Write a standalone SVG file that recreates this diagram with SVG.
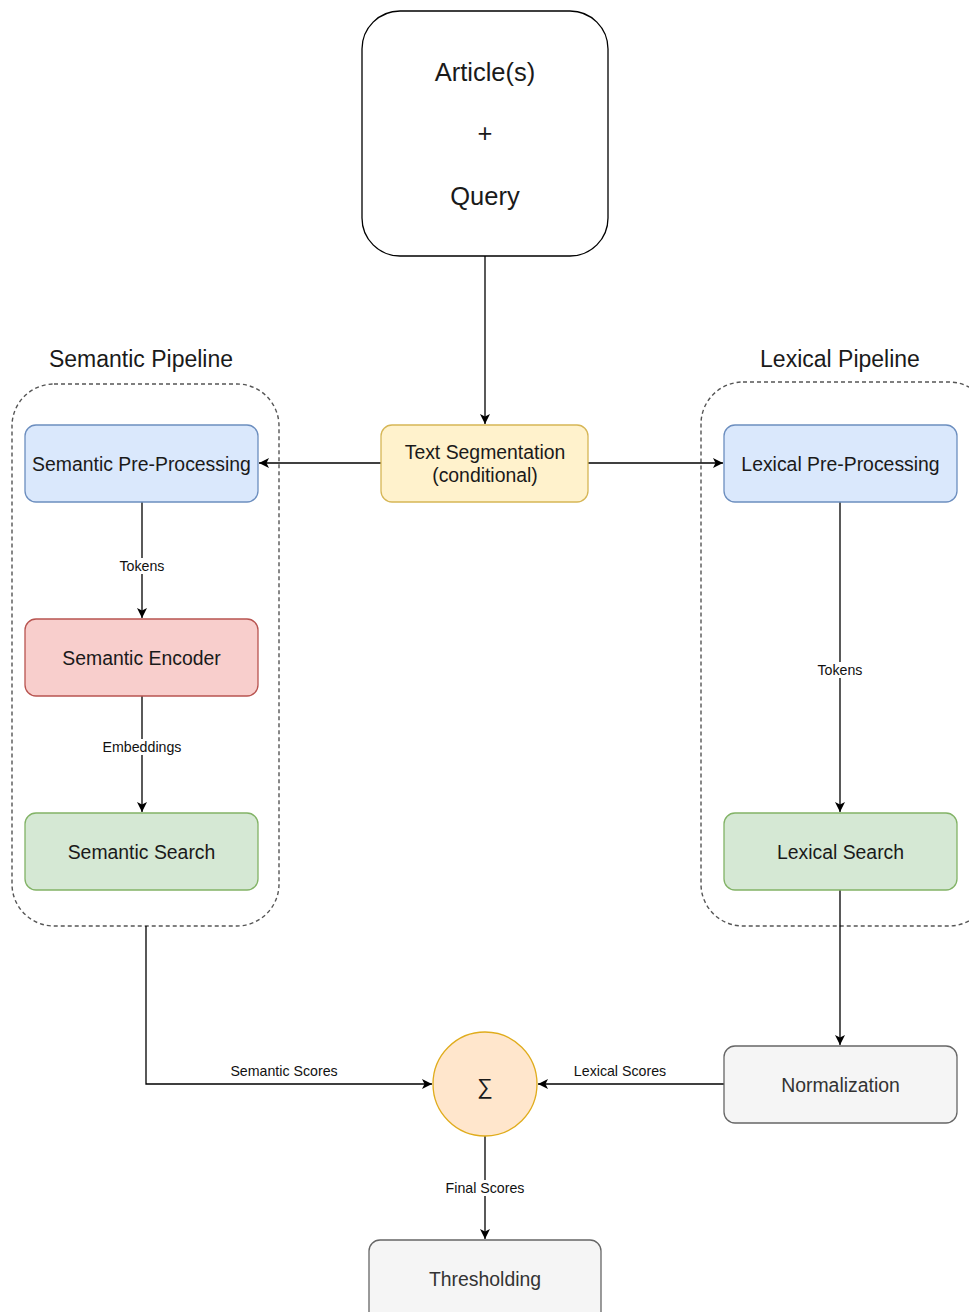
<svg xmlns="http://www.w3.org/2000/svg" width="969" height="1312" viewBox="0 0 969 1312">
  <defs>
    <marker id="arrow" viewBox="0 0 10 10" refX="10" refY="5" markerWidth="10" markerHeight="10" markerUnits="userSpaceOnUse" orient="auto">
      <path d="M0,0 L10,5 L0,10 L2.5,5 Z" fill="#000"/>
    </marker>
    <style>
      text { font-family: "Liberation Sans", Arial, sans-serif; fill: #1a1a1a; text-anchor: middle; dominant-baseline: central; }
      .node { font-size: 19.4px; }
      .big { font-size: 25.5px; }
      .title { font-size: 23px; }
      .lbl { font-size: 14.2px; fill: #111; }
      .gray text { fill: #333; }
      .edge { fill: none; stroke: #000; stroke-width: 1.3; }
      .arr { marker-end: url(#arrow); }
      .group { fill: none; stroke: #555; stroke-width: 1.4; stroke-dasharray: 4 3; }
      .lblbg { fill: #fff; }
    </style>
  </defs>

  <rect width="969" height="1312" fill="#fff"/>

  <!-- pipeline containers -->
  <g id="semantic-pipeline">
    <rect class="group" x="12" y="384" width="267" height="542" rx="42"/>
    <text class="title" x="141" y="359">Semantic Pipeline</text>
  </g>
  <g id="lexical-pipeline">
    <rect class="group" x="701" y="382" width="290" height="544" rx="42"/>
    <text class="title" x="840" y="359">Lexical Pipeline</text>
  </g>

  <!-- connectors -->
  <g id="connectors">
    <path class="edge arr" d="M485,256 V424"/>
    <path class="edge arr" d="M381,463 H259"/>
    <path class="edge arr" d="M588,463 H723"/>
    <path class="edge arr" d="M142,502 V618"/>
    <path class="edge arr" d="M142,696 V812"/>
    <path class="edge arr" d="M840,502 V812"/>
    <path class="edge arr" d="M840,890 V1045"/>
    <path class="edge arr" d="M146,926 V1084 H432"/>
    <path class="edge arr" d="M724,1084 H538"/>
    <path class="edge arr" d="M485,1136 V1239"/>

    <rect class="lblbg" x="116" y="558" width="52" height="16"/>
    <text class="lbl" x="142" y="566">Tokens</text>
    <rect class="lblbg" x="98" y="739" width="88" height="16"/>
    <text class="lbl" x="142" y="747">Embeddings</text>
    <rect class="lblbg" x="814" y="662" width="52" height="16"/>
    <text class="lbl" x="840" y="670">Tokens</text>
    <text class="lbl" x="284" y="1071">Semantic Scores</text>
    <text class="lbl" x="620" y="1071">Lexical Scores</text>
    <rect class="lblbg" x="441" y="1180" width="88" height="16"/>
    <text class="lbl" x="485" y="1188">Final Scores</text>
  </g>

  <!-- nodes -->
  <g id="input">
    <rect x="362" y="11" width="246" height="245" rx="38" fill="#fff" stroke="#000" stroke-width="1.3"/>
    <text class="big" x="485" y="72">Article(s)</text>
    <text class="big" x="485" y="133">+</text>
    <text class="big" x="485" y="196">Query</text>
  </g>

  <g id="text-segmentation">
    <rect x="381" y="425" width="207" height="77" rx="11" fill="#fff2cc" stroke="#d6b656" stroke-width="1.3"/>
    <text class="node" x="485" y="452">Text Segmentation</text>
    <text class="node" x="485" y="475">(conditional)</text>
  </g>

  <g id="semantic-preprocessing">
    <rect x="25" y="425" width="233" height="77" rx="11" fill="#dae8fc" stroke="#6c8ebf" stroke-width="1.3"/>
    <text class="node" x="141.5" y="464">Semantic Pre-Processing</text>
  </g>

  <g id="semantic-encoder">
    <rect x="25" y="619" width="233" height="77" rx="11" fill="#f8cecc" stroke="#b85450" stroke-width="1.3"/>
    <text class="node" x="141.5" y="658">Semantic Encoder</text>
  </g>

  <g id="semantic-search">
    <rect x="25" y="813" width="233" height="77" rx="11" fill="#d5e8d4" stroke="#82b366" stroke-width="1.3"/>
    <text class="node" x="141.5" y="852">Semantic Search</text>
  </g>

  <g id="lexical-preprocessing">
    <rect x="724" y="425" width="233" height="77" rx="11" fill="#dae8fc" stroke="#6c8ebf" stroke-width="1.3"/>
    <text class="node" x="840.5" y="464">Lexical Pre-Processing</text>
  </g>

  <g id="lexical-search">
    <rect x="724" y="813" width="233" height="77" rx="11" fill="#d5e8d4" stroke="#82b366" stroke-width="1.3"/>
    <text class="node" x="840.5" y="852">Lexical Search</text>
  </g>

  <g id="normalization" class="gray">
    <rect x="724" y="1046" width="233" height="77" rx="11" fill="#f5f5f5" stroke="#666" stroke-width="1.3"/>
    <text class="node" x="840.5" y="1085">Normalization</text>
  </g>

  <g id="sum">
    <circle cx="485" cy="1084" r="52" fill="#ffe6cc" stroke="#e0ac1c" stroke-width="1.3"/>
    <text x="485" y="1086" style="font-size:22px">∑</text>
  </g>

  <g id="thresholding" class="gray">
    <rect x="369" y="1240" width="232" height="85" rx="11" fill="#f5f5f5" stroke="#666" stroke-width="1.3"/>
    <text class="node" x="485" y="1279">Thresholding</text>
  </g>
</svg>
